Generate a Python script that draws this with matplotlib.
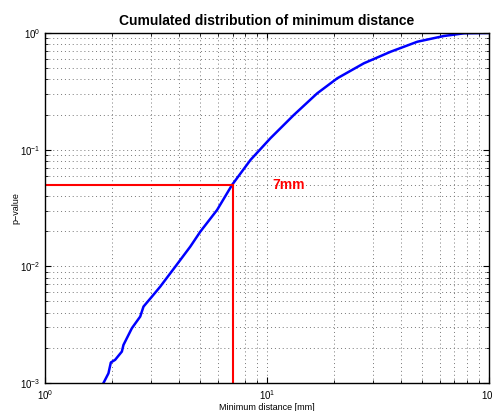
import numpy as np
import matplotlib
matplotlib.use('Agg')
import matplotlib.pyplot as plt

plt.rcParams['font.family'] = ['Liberation Sans', 'DejaVu Sans']

# cumulated distribution
dist = [1.834, 1.931, 1.980, 2.070, 2.220, 2.257, 2.463, 2.685, 2.779, 3.032,
        3.305, 3.863, 4.514, 5.010, 5.961, 6.965, 8.425, 10.37, 13.21, 16.85,
        20.75, 27.35, 36.11, 47.65, 62.8, 77.3, 100.0]
pval = [0.00100, 0.00121, 0.00150, 0.00158, 0.00186, 0.00212, 0.00295,
        0.00371, 0.00452, 0.00550, 0.00670, 0.00993, 0.01475, 0.01983,
        0.0304, 0.0499, 0.0815, 0.1253, 0.198, 0.304, 0.409, 0.550, 0.691,
        0.842, 0.943, 0.994, 1.0]
thr_x = 7
thr_p = 0.05

fig = plt.figure(figsize=(4.92, 4.11), dpi=100)
ax = fig.add_axes([0.0915, 0.0681, 0.902, 0.8516])

ax.plot(dist, pval, color='blue', linewidth=1.8)
ax.plot([1, thr_x], [thr_p, thr_p], color='red', linewidth=1.5)
ax.plot([thr_x, thr_x], [1e-3, thr_p], color='red', linewidth=1.5)
ax.text(10.6, thr_p, '7mm', color='red', fontsize=10, fontweight='bold',
        va='center', ha='left')

ax.set_xscale('log')
ax.set_yscale('log')
ax.set_xlim(1, 100)
ax.set_ylim(1e-3, 1)
ax.grid(True, which='both', linestyle=(0, (1, 3)), color='#777777', linewidth=0.7)
ax.tick_params(which='both', direction='in', top=True, right=True, labelsize=7)
ax.tick_params(which='major', length=4)
ax.tick_params(which='minor', length=2)
for s in ax.spines.values():
    s.set_linewidth(1.0)

ax.set_title('Cumulated distribution of minimum distance', fontsize=10,
             fontweight='bold', pad=6)
ax.set_xlabel('Minimum distance [mm]', fontsize=6.5, labelpad=1)
ax.set_ylabel('p\u2212value', fontsize=6.5)
ax.yaxis.set_label_coords(-0.055, 0.5)

plt.savefig('out.png', dpi=100)
